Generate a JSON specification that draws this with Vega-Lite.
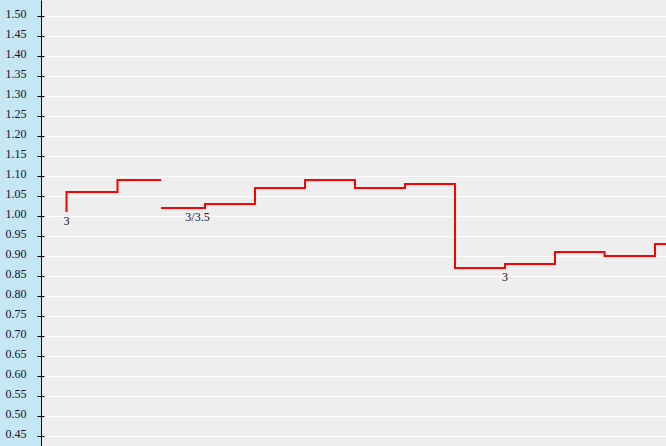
{
  "$schema": "https://vega.github.io/schema/vega-lite/v6.json",
  "width": 625,
  "height": 446,
  "autosize": {"type": "none"},
  "padding": {"left": 41, "top": 0, "right": 0, "bottom": 0},
  "background": "#c5e7f3",
  "config": {
    "view": {"fill": "#eeeeee", "stroke": null},
    "font": "Liberation Serif"
  },
  "datasets": {
    "series": [
      {"seg": "a", "t": 0.51, "v": 1.01},
      {"seg": "a", "t": 0.51, "v": 1.06},
      {"seg": "a", "t": 1.53, "v": 1.09},
      {"seg": "a", "t": 2.40, "v": 1.09},
      {"seg": "b", "t": 2.40, "v": 1.02},
      {"seg": "b", "t": 3.28, "v": 1.03},
      {"seg": "b", "t": 4.28, "v": 1.07},
      {"seg": "b", "t": 5.28, "v": 1.09},
      {"seg": "b", "t": 6.28, "v": 1.07},
      {"seg": "b", "t": 7.28, "v": 1.08},
      {"seg": "b", "t": 8.28, "v": 0.87},
      {"seg": "b", "t": 9.28, "v": 0.88},
      {"seg": "b", "t": 10.28, "v": 0.91},
      {"seg": "b", "t": 11.27, "v": 0.90},
      {"seg": "b", "t": 12.28, "v": 0.93},
      {"seg": "b", "t": 12.5, "v": 0.93}
    ],
    "labels": [
      {"t": 0.51, "v": 1.01, "label": "3"},
      {"t": 3.13, "v": 1.02, "label": "3/3.5"},
      {"t": 9.28, "v": 0.87, "label": "3"}
    ],
    "ticks": [
      {"v": 0.45}, {"v": 0.50}, {"v": 0.55}, {"v": 0.60}, {"v": 0.65}, {"v": 0.70},
      {"v": 0.75}, {"v": 0.80}, {"v": 0.85}, {"v": 0.90}, {"v": 0.95}, {"v": 1.00},
      {"v": 1.05}, {"v": 1.10}, {"v": 1.15}, {"v": 1.20}, {"v": 1.25}, {"v": 1.30},
      {"v": 1.35}, {"v": 1.40}, {"v": 1.45}, {"v": 1.50}
    ]
  },
  "layer": [
    {
      "data": {"name": "series"},
      "mark": {"type": "line", "interpolate": "step-after", "color": "#ff0000", "strokeWidth": 2, "strokeCap": "butt", "clip": true},
      "encoding": {
        "x": {"field": "t", "type": "quantitative", "scale": {"domain": [0, 12.5], "nice": false, "zero": false}, "axis": null},
        "y": {
          "field": "v", "type": "quantitative",
          "scale": {"domain": [0.425, 1.54], "nice": false, "zero": false},
          "axis": {
            "orient": "left",
            "title": null,
            "values": [0.45, 0.5, 0.55, 0.6, 0.65, 0.7, 0.75, 0.8, 0.85, 0.9, 0.95, 1.0, 1.05, 1.1, 1.15, 1.2, 1.25, 1.3, 1.35, 1.4, 1.45, 1.5],
            "tickCount": 40,
            "format": ".2f",
            "domain": true,
            "domainColor": "#000000",
            "domainWidth": 1,
            "ticks": false,
            "grid": true,
            "gridColor": "#ffffff",
            "gridWidth": 1,
            "gridOpacity": 1,
            "labelFont": "Liberation Serif",
            "labelFontSize": 12,
            "labelColor": "#111133",
            "labelPadding": 15,
            "labelBaseline": "alphabetic",
            "labelOffset": 1,
            "labelFlush": false,
            "labelOverlap": false
          }
        },
        "detail": {"field": "seg", "type": "nominal"}
      }
    },
    {
      "data": {"name": "ticks"},
      "mark": {"type": "tick", "orient": "horizontal", "color": "#000000", "size": 7, "thickness": 1, "opacity": 1, "yOffset": 0.5},
      "encoding": {
        "x": {"datum": 0, "type": "quantitative"},
        "y": {"field": "v", "type": "quantitative"}
      }
    },
    {
      "data": {"name": "labels"},
      "mark": {"type": "text", "font": "Liberation Serif", "fontSize": 12, "color": "#111133", "align": "center", "baseline": "alphabetic", "dy": 12.5},
      "encoding": {
        "x": {"field": "t", "type": "quantitative"},
        "y": {"field": "v", "type": "quantitative"},
        "text": {"field": "label", "type": "nominal"}
      }
    }
  ]
}
